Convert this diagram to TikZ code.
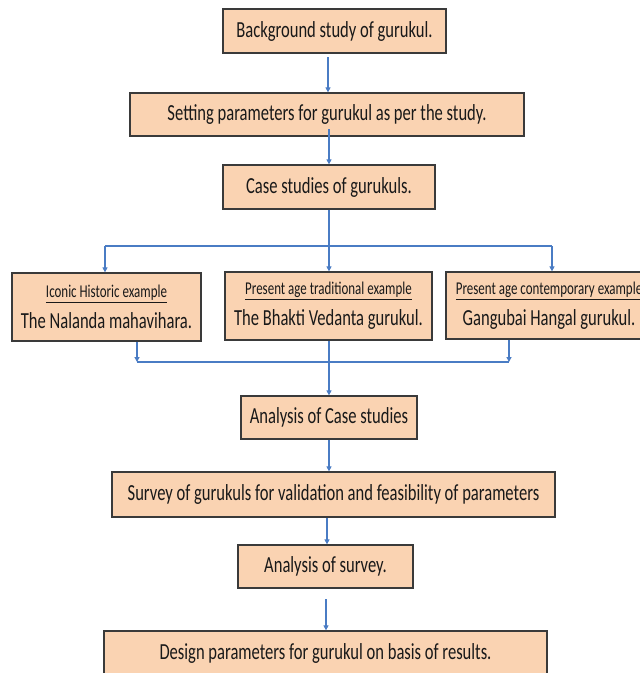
\documentclass[tikz,border=0pt]{standalone}
\usepackage{fontspec}
\setmainfont{Carlito}[FakeStretch=0.72]
\usetikzlibrary{arrows.meta}
\definecolor{peach}{HTML}{FAD3B2}
\definecolor{edge}{HTML}{3A3A3A}
\definecolor{flow}{HTML}{4A7CC4}
\tikzset{
  stepbox/.style={draw=edge, fill=peach, line width=1.3pt, inner sep=0pt, anchor=center,
    font=\fontsize{23}{26}\selectfont, text=black!90, align=center},
  arr/.style={draw=flow, line width=1.2pt, -{Triangle[width=5pt,length=5pt]}},
  ln/.style={draw=flow, line width=1.2pt}
}
\newcommand{\lbl}[1]{{\fontsize{18}{20}\selectfont\underline{#1}}}
\begin{document}
\begin{tikzpicture}[x=1pt,y=1pt]
\useasboundingbox (0,0) rectangle (640,-673);
\fill[white] (0,0) rectangle (640,-673);

\node[stepbox, minimum width=223pt, minimum height=44pt] (b1) at (334.5,-31) {Background study of gurukul.};
\node[stepbox, minimum width=394pt, minimum height=43pt] (b2) at (327,-114.5) {Setting parameters for gurukul as per the study.};
\node[stepbox, minimum width=212pt, minimum height=44pt] (b3) at (329,-187) {Case studies of gurukuls.};

\node[stepbox, minimum width=189pt, minimum height=68pt] (b4) at (106.5,-307) {\lbl{Iconic Historic example}\\[5pt]The Nalanda mahavihara.};
\node[stepbox, minimum width=207pt, minimum height=68pt] (b5) at (328.5,-306) {\lbl{Present age traditional example}\\[5pt]The Bhakti Vedanta gurukul.};
\node[stepbox, minimum width=206pt, minimum height=67pt] (b6) at (549,-305.5) {\lbl{Present age contemporary example}\\[5pt]Gangubai Hangal gurukul.};

\node[stepbox, minimum width=176pt, minimum height=43pt] (b7) at (329,-417.5) {Analysis of Case studies};
\node[stepbox, minimum width=443pt, minimum height=45pt] (b8) at (333.5,-494.5) {Survey of gurukuls for validation and feasibility of parameters};
\node[stepbox, minimum width=175pt, minimum height=43pt] (b9) at (325.5,-566.5) {Analysis of survey.};
\node[stepbox, minimum width=443pt, minimum height=44pt] (b10) at (325.5,-653) {Design parameters for gurukul on basis of results.};

% connectors
\coordinate (s12) at (328,-57);
\draw[arr] (s12) -- (s12 |- b2.north);
\coordinate (s23) at (329,-129);
\draw[arr] (s23) -- (s23 |- b3.north);

\coordinate (split) at (329,-246);
\coordinate (sl) at (105,-246);
\coordinate (sr) at (552,-246);
\draw[ln] (b3.south -| split) -- (split);
\draw[ln] (sl) -- (sr);
\draw[arr] (sl) -- (sl |- b4.north);
\draw[arr] (split) -- (split |- b5.north);
\draw[arr] (sr) -- (sr |- b6.north);

\coordinate (ml) at (137,-362);
\coordinate (mr) at (509,-362);
\draw[ln] (ml) -- (mr);
\draw[arr] (ml |- b4.south) -- (ml);
\draw[arr] (mr |- b6.south) -- (mr);
\draw[arr] (split |- b5.south) -- (split |- b7.north);

\draw[arr] (split |- b7.south) -- (split |- b8.north);
\coordinate (s89) at (327,0);
\draw[arr] (s89 |- b8.south) -- (s89 |- b9.north);
\coordinate (s910) at (326,-599);
\draw[arr] (s910) -- (s910 |- b10.north);
\end{tikzpicture}
\end{document}
